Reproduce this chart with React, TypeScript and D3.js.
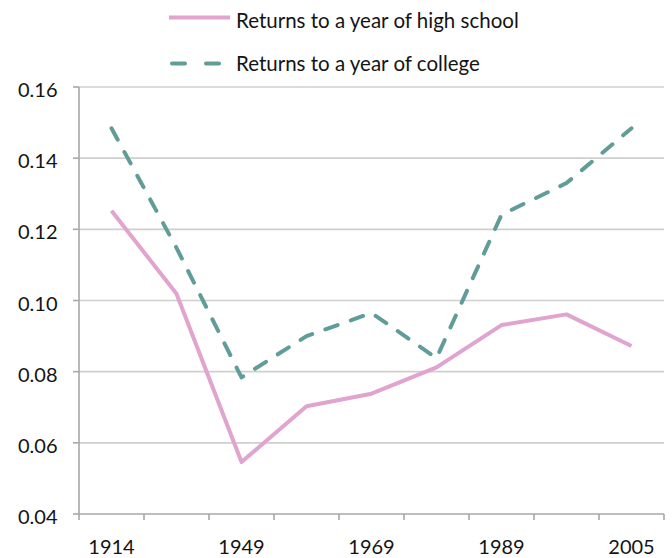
import React from "react";
import * as d3 from "d3";

const years = ["1914", "1939", "1949", "1959", "1969", "1979", "1989", "1995", "2005"];
const highSchool = [0.1252, 0.1019, 0.0546, 0.0703, 0.0738, 0.0812, 0.0931, 0.0961, 0.0872];
const college = [0.1484, 0.1148, 0.0784, 0.0900, 0.0965, 0.0838, 0.1241, 0.1330, 0.1484];
const yTicks = [0.04, 0.06, 0.08, 0.1, 0.12, 0.14, 0.16];
const shownYears = ["1914", "1949", "1969", "1989", "2005"];
const seriesNames = ["Returns to a year of high school", "Returns to a year of college"];

const W = 672;
const H = 558;
const left = 79;
const right = 664;
const top = 87;
const bottom = 514;
const FONT = "Lato, 'Open Sans', sans-serif";
const PINK = "#e0a4cf";
const TEAL = "#619d98";
const TEXT = "#141414";

export default function App() {
  const x = d3.scaleBand<string>().domain(years).range([left, right]).padding(0);
  const y = d3.scaleLinear().domain([0.04, 0.16]).range([bottom, top]);
  const cx = (d: string) => (x(d) as number) + x.bandwidth() / 2;
  const line = d3
    .line<number>()
    .x((_, i) => cx(years[i]))
    .y((v) => y(v));

  const boundaries = years.map((d) => x(d) as number).concat([right]);

  return (
    <svg
      width={W}
      height={H}
      style={{ position: "absolute", left: 0, top: 0, background: "#fff" }}
      fontFamily={FONT}
    >
      {/* gridlines */}
      {yTicks.slice(1).map((t) => (
        <line key={"g" + t} x1={left} x2={right} y1={y(t)} y2={y(t)} stroke="#cfcfcf" strokeWidth={1.6} />
      ))}
      {/* y axis */}
      <line x1={left} x2={left} y1={top} y2={bottom} stroke="#a8a8a8" strokeWidth={1.6} />
      {yTicks.map((t) => (
        <g key={"y" + t}>
          <line x1={left - 6} x2={left} y1={y(t)} y2={y(t)} stroke="#a8a8a8" strokeWidth={1.6} />
          <text x={57.5} y={y(t) + 10} textAnchor="end" fontSize={20} fill={TEXT}>
            {t.toFixed(2)}
          </text>
        </g>
      ))}
      {/* x axis */}
      <line x1={left} x2={right} y1={bottom} y2={bottom} stroke="#a8a8a8" strokeWidth={1.6} />
      {boundaries.map((b, i) => (
        <line key={"xt" + i} x1={b} x2={b} y1={bottom} y2={bottom + 6} stroke="#a8a8a8" strokeWidth={1.6} />
      ))}
      {years.map((d) =>
        shownYears.includes(d) ? (
          <text key={"xl" + d} x={cx(d)} y={554} textAnchor="middle" fontSize={20} fill={TEXT}>
            {d}
          </text>
        ) : null
      )}
      {/* series */}
      <path d={line(highSchool) || ""} fill="none" stroke={PINK} strokeWidth={4} strokeLinejoin="round" />
      <path
        d={line(college) || ""}
        fill="none"
        stroke={TEAL}
        strokeWidth={4}
        strokeDasharray="13 14"
        strokeLinecap="round"
        strokeLinejoin="round"
      />
      {/* legend */}
      <line x1={169} x2={230} y1={17.5} y2={17.5} stroke={PINK} strokeWidth={4} />
      <text x={236} y={28} fontSize={20.5} fill={TEXT}>
        {seriesNames[0]}
      </text>
      <line
        x1={172}
        x2={222}
        y1={63.5}
        y2={63.5}
        stroke={TEAL}
        strokeWidth={4}
        strokeDasharray="13 21"
        strokeLinecap="round"
      />
      <text x={236} y={71} fontSize={20.5} fill={TEXT}>
        {seriesNames[1]}
      </text>
    </svg>
  );
}
